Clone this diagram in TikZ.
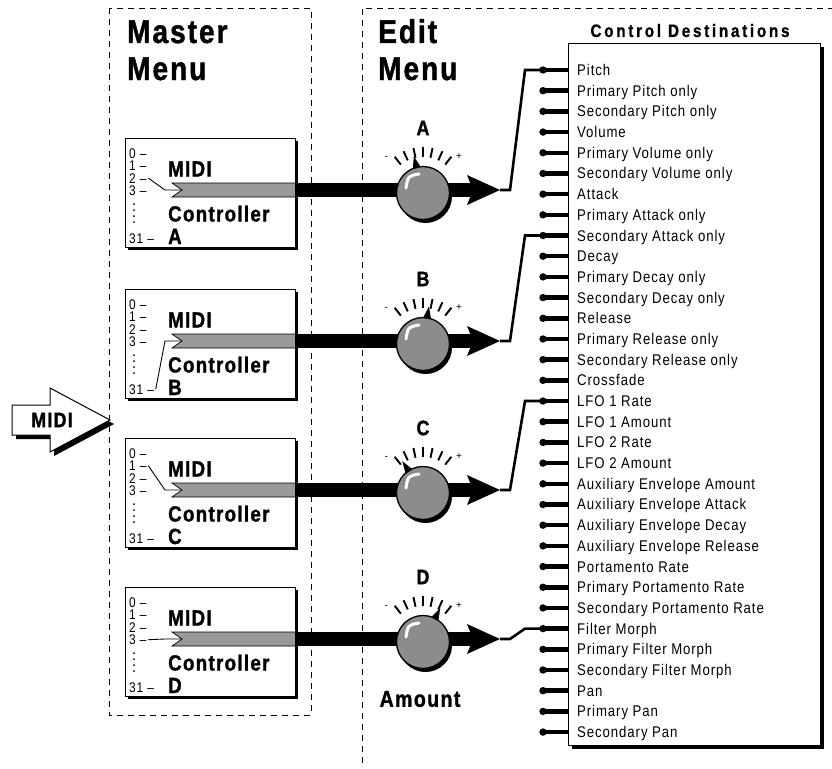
\documentclass[tikz,border=0pt]{standalone}
\usepackage{fontspec}
\setmainfont{Liberation Sans}
\newfontfamily\futfont{Liberation Sans}[FakeStretch=0.85,LetterSpace=6,BoldFeatures={FakeBold=1.3}]
\newfontfamily\futwide{Liberation Sans}[FakeStretch=0.85,LetterSpace=15,BoldFeatures={FakeBold=0.8}]
\usetikzlibrary{arrows.meta,shadows}

\begin{document}
\begin{tikzpicture}[x=1pt,y=-1pt,
  boxshadow/.style={drop shadow={shadow xshift=3pt,shadow yshift=-3pt,fill=black,opacity=1}},
  menuline/.style={dash pattern=on 6pt off 5pt,line width=0.8pt},
  ctrlbox/.style={draw,fill=white,line width=0.8pt,minimum width=170pt,minimum height=109pt,anchor=north west,inner sep=0pt,boxshadow},
  knob/.style={circle,draw,line width=1.3pt,fill=black!45,minimum size=53pt,inner sep=0pt,
    drop shadow={shadow xshift=2.5pt,shadow yshift=-3.5pt,fill=black,opacity=1}},
  headtxt/.style={anchor=base west,inner sep=0pt,font=\futfont\bfseries\fontsize{33}{33}\selectfont},
  bigtxt/.style={anchor=base west,inner sep=0pt,font=\futfont\bfseries\fontsize{22}{22}\selectfont},
  numtxt/.style={anchor=base west,inner sep=0pt,font=\futfont\fontsize{14}{14}\selectfont},
  dsttxt/.style={anchor=base west,inner sep=0pt,font=\futfont\fontsize{15.5}{15.5}\selectfont},
  lettxt/.style={inner sep=0pt,font=\futfont\bfseries\fontsize{21}{21}\selectfont}]
\useasboundingbox (0,0) rectangle (832,768);

% menus
\draw[menuline] (109,8) rectangle (311,715);
\draw[menuline] (362,763) -- (362,8) -- (832,8);
\node[headtxt] (mastertop) at (127,43) {Master};
\node[headtxt] (masterbot) at (127,80) {Menu};
\node[headtxt] (edittop) at (378,43) {Edit};
\node[headtxt] (editbot) at (378,80) {Menu};

% MIDI in
\fill[shift={(4,4)}] (12,405) -- (50,405) -- (50,388) -- (110,420) -- (50,452) -- (50,435) -- (12,435) -- cycle;
\draw[fill=white,line width=1pt] (12,405) -- (50,405) -- (50,388) -- (110,420) -- (50,452) -- (50,435) -- (12,435) -- cycle;
\node[font=\futfont\bfseries\fontsize{21}{21}\selectfont,inner sep=0pt] (midiin) at (52,420) {MIDI};

% destinations
\node[font=\futwide\bfseries\fontsize{18}{18}\selectfont,anchor=base,inner sep=0pt] (dsttitle) at (690,37) {Control Destinations};
\node[draw,fill=white,line width=0.8pt,minimum width=252pt,minimum height=702pt,anchor=north west,inner sep=0pt,
  drop shadow={shadow xshift=4pt,shadow yshift=-4pt,fill=black,opacity=1}] (dstbox) at (568,43) {};
\foreach \dname [count=\i from 0] in {Pitch,Primary Pitch only,Secondary Pitch only,Volume,
  Primary Volume only,Secondary Volume only,Attack,Primary Attack only,Secondary Attack only,
  Decay,Primary Decay only,Secondary Decay only,Release,Primary Release only,Secondary Release only,
  Crossfade,LFO 1 Rate,LFO 1 Amount,LFO 2 Rate,LFO 2 Amount,Auxiliary Envelope Amount,
  Auxiliary Envelope Attack,Auxiliary Envelope Decay,Auxiliary Envelope Release,Portamento Rate,
  Primary Portamento Rate,Secondary Portamento Rate,Filter Morph,Primary Filter Morph,
  Secondary Filter Morph,Pan,Primary Pan,Secondary Pan}{
  \pgfmathsetmacro{\py}{70+20.69*\i}
  \coordinate (pin\i) at (543,\py);
  \draw[line width=4.5pt] (pin\i) -- (dstbox.west |- pin\i);
  \fill (pin\i) circle (3.7);
  \node[dsttxt] (dst\i) at (577,\py+5.5) {\dname};
}

% controllers, knobs
\foreach \ch/\ty/\sel/\ang/\dst in {A/138/2/104/0,B/289/31/81/8,C/438/1/123/16,D/587/3/63/27}{
  \pgfmathsetmacro{\by}{\ty+52}
  \node[ctrlbox] (ctrl\ch) at (125,\ty) {};
  \foreach \n/\dy in {0/20,1/32.5,2/45,3/57.5,31/105}
    \node[numtxt] (ctrl\ch-\n) at (129,\ty+\dy) {\n~–};
  \foreach \dy in {66,72,78,84}
    \fill (134,\ty+\dy) circle (1);
  \node[bigtxt] (midi\ch) at (168,\ty+38.5) {MIDI};
  \node[bigtxt] (cname\ch) at (168,\ty+83.5) {Controller};
  \node[bigtxt] (clet\ch) at (168,\ty+106) {\ch};
  \coordinate (notch\ch) at (182,\by);
  \coordinate (src\ch) at (295,\by);
  \coordinate (tip\ch) at (500,\by);
  \draw[fill=black!40,line width=0.7pt] (src\ch) ++(0,-7) -- (172,\by-7) -- (notch\ch) -- (172,\by+7) -- ++(123,0);
  \draw[line width=0.9pt] ([xshift=1.5pt]ctrl\ch-\sel.east) -- (165,\by) -- (notch\ch);
  \draw[line width=14pt,-{Stealth[length=33pt,width=30pt,inset=6pt,line width=0pt]}] (src\ch) -- (tip\ch);
  \node[knob] (knob\ch) at (423,\by+3) {};
  \draw[white,line width=3pt,line cap=round] ([shift={(-17,-5)}]knob\ch.center) .. controls ([shift={(-15,-17)}]knob\ch.center) .. ([shift={(-4,-19)}]knob\ch.center);
  \foreach \a in {128,115,102,90,78,65,52}
    \draw[line width=1.9pt] ([shift={(-\a:36)}]knob\ch.center) -- ([shift={(-\a:46)}]knob\ch.center);
  \fill ([shift={(-\ang-9:26)}]knob\ch.center) -- ([shift={(-\ang:38)}]knob\ch.center) -- ([shift={(-\ang+9:26)}]knob\ch.center) -- cycle;
  \node[font=\fontsize{10}{10}\selectfont,inner sep=0pt] (minus\ch) at ([shift={(-136:51)}]knob\ch.center) {-};
  \node[font=\fontsize{10}{10}\selectfont,inner sep=0pt] (plus\ch) at ([shift={(-45:51)}]knob\ch.center) {+};
  \node[lettxt] (klet\ch) at (423,\by-62) {\ch};
  \draw[line width=2.6pt] (tip\ch) -- ++(10,0) -- ([xshift=-18pt]pin\dst) -- (pin\dst);
}
\node[lettxt,font=\futfont\bfseries\fontsize{23}{23}\selectfont] (amount) at (420,699) {Amount};
\end{tikzpicture}
\end{document}
